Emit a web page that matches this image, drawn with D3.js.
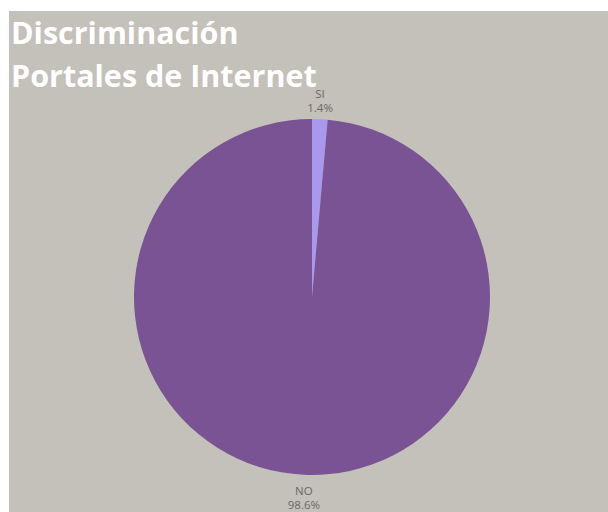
<!DOCTYPE html>
<html>
<head>
<meta charset="utf-8">
<script src="https://cdn.jsdelivr.net/npm/d3@7"></script>
<style>
  body { margin: 0; background: #fff; }
</style>
</head>
<body>
<div id="chart"></div>
<script>
let width = 608,
    height = 512;

let categories = ["SI", "NO"];
let values = [1.4, 98.6];
let colors = ["#a899ef", "#7a5394"];
let titleLines = ["Discriminación", "Portales de Internet"];

let svg = d3.select("#chart").append("svg")
    .attr("width", width)
    .attr("height", height);

// grey panel
svg.append("rect")
    .attr("x", 9)
    .attr("y", 11)
    .attr("width", width - 9)
    .attr("height", height - 11)
    .style("fill", "#c4c0ba");

let cx = 312, cy = 297, radius = 178;

let pie = d3.pie().sort(null);
let arc = d3.arc().innerRadius(0).outerRadius(radius);

let data = pie(values);

let g = svg.append("g")
    .attr("transform", "translate(" + cx + "," + cy + ")");

g.selectAll("path")
  .data(data)
  .enter()
  .append("path")
  .attr("d", arc)
  .style("fill", (d, i) => colors[i]);

// labels outside each slice, two lines each
data.forEach(function(d, i) {
  let a = (d.startAngle + d.endAngle) / 2;
  let r = radius + 6;
  let x = Math.sin(a) * r;
  let y = -Math.cos(a) * r;
  let y0 = y < 0 ? y - 15 : y + 14;
  [categories[i], values[i].toFixed(1) + "%"].forEach(function(s, k) {
    g.append("text")
      .attr("x", x)
      .attr("y", y0 + k * 14)
      .attr("text-anchor", "middle")
      .style("font-family", "'Open Sans', sans-serif")
      .style("font-size", "11.5px")
      .style("fill", "#6a6866")
      .text(s);
  });
});

svg.selectAll(".title")
  .data(titleLines)
  .enter()
  .append("text")
  .attr("class", "title")
  .attr("x", 11)
  .attr("y", (d, i) => 44 + i * 43)
  .style("font-family", "'Open Sans', sans-serif")
  .style("font-weight", "bold")
  .style("font-size", "30.5px")
  .style("fill", "#ffffff")
  .text(d => d);
</script>
</body>
</html>
